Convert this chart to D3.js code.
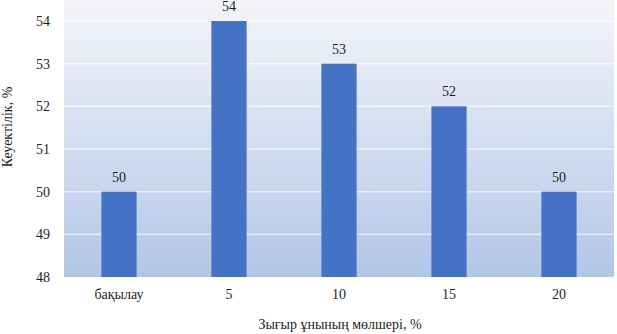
<!DOCTYPE html>
<html lang="kk">
<head>
    <meta charset="UTF-8">
    <title>Кеуектілік</title>
    <script src="https://d3js.org/d3.v7.min.js"></script>
    <style>
        body { margin: 0; background: #fff; }
        svg text { font-family: "Liberation Serif", "DejaVu Serif", "Times New Roman", serif !important; fill: #1e1e1e; }
    </style>
</head>
<body>
    <svg id="chart" width="617" height="334"></svg>
    <script>
        // data
        const categories = ['бақылау', '5', '10', '15', '20'];
        const porosity = [50, 54, 53, 52, 50];
        const yTicks = [48, 49, 50, 51, 52, 53, 54];

        const svg = d3.select('#chart');
        const plot = { left: 64, right: 614, top: 0, bottom: 277 };
        const serif = '"Liberation Serif", "DejaVu Serif", serif';

        const x = d3.scaleBand()
            .domain(categories)
            .range([plot.left, plot.right])
            .paddingInner(0.68)
            .paddingOuter(0.34);

        const y = d3.scaleLinear()
            .domain([48, 54])
            .range([plot.bottom, 21]);

        // background gradient of the plot area
        const grad = svg.append('defs').append('linearGradient')
            .attr('id', 'bg').attr('x1', 0).attr('y1', 0).attr('x2', 0).attr('y2', 1);
        grad.append('stop').attr('offset', '0%').attr('stop-color', '#f4f5fa');
        grad.append('stop').attr('offset', '100%').attr('stop-color', '#b3c6e7');

        svg.append('rect')
            .attr('x', plot.left).attr('y', plot.top)
            .attr('width', plot.right - plot.left)
            .attr('height', plot.bottom - plot.top)
            .attr('fill', 'url(#bg)');

        // gridlines
        svg.append('g')
            .selectAll('line')
            .data(yTicks.slice(1))
            .enter().append('line')
            .attr('x1', plot.left).attr('x2', plot.right)
            .attr('y1', d => y(d)).attr('y2', d => y(d))
            .attr('stroke', '#ffffff')
            .attr('stroke-opacity', 0.6)
            .attr('stroke-width', 1.5);

        // bars
        svg.append('g')
            .selectAll('rect')
            .data(porosity)
            .enter().append('rect')
            .attr('x', (d, i) => x(categories[i]))
            .attr('y', d => y(d))
            .attr('width', x.bandwidth())
            .attr('height', d => y(48) - y(d))
            .attr('fill', '#4472c4');

        // value labels
        svg.append('g')
            .selectAll('text')
            .data(porosity)
            .enter().append('text')
            .attr('x', (d, i) => x(categories[i]) + x.bandwidth() / 2)
            .attr('y', d => y(d) - 10)
            .attr('text-anchor', 'middle')
            .attr('font-family', serif)
            .style('font-size', '14px')
            .text(d => d);

        // y axis
        const yAxis = svg.append('g')
            .attr('transform', `translate(${plot.left},0)`)
            .attr('font-family', serif)
            .call(d3.axisLeft(y).tickValues(yTicks).tickFormat(d3.format('d')).tickSize(0).tickPadding(14));
        yAxis.attr('font-family', serif);
        yAxis.select('.domain').remove();
        yAxis.selectAll('text').style('font-size', '14px');

        // x axis
        const xAxis = svg.append('g')
            .attr('transform', `translate(0,${plot.bottom})`)
            .call(d3.axisBottom(x).tickSize(0).tickPadding(12));
        xAxis.attr('font-family', serif);
        xAxis.select('.domain').remove();
        xAxis.selectAll('text').style('font-size', '14px');

        // axis titles
        svg.append('text')
            .attr('transform', 'translate(12,127) rotate(-90)')
            .attr('text-anchor', 'middle')
            .attr('font-family', serif)
            .style('font-size', '14px')
            .text('Кеуектілік, %');

        svg.append('text')
            .attr('x', 340).attr('y', 329)
            .attr('text-anchor', 'middle')
            .attr('font-family', serif)
            .style('font-size', '14px')
            .text('Зығыр ұнының мөлшері, %');
    </script>
</body>
</html>
